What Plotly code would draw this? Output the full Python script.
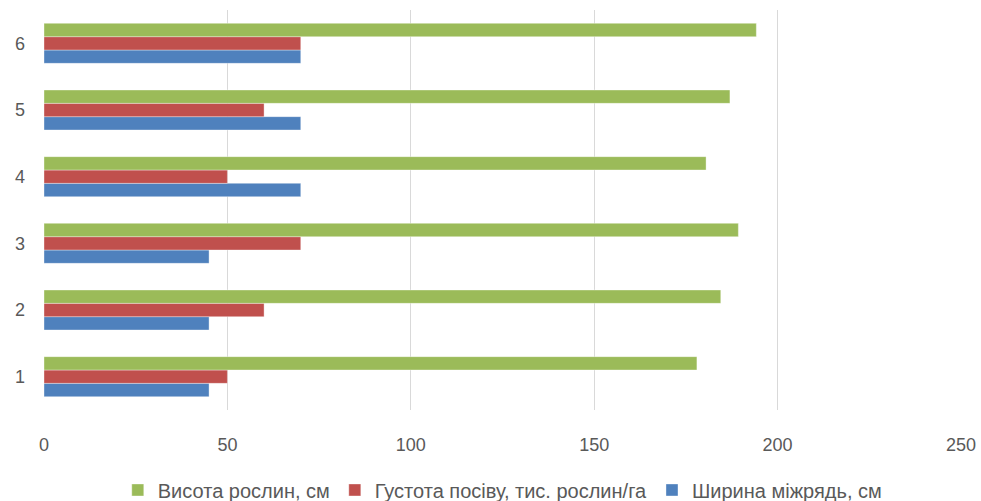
import plotly.graph_objects as go

categories = ["1", "2", "3", "4", "5", "6"]
row_width = [45, 45, 45, 70, 70, 70]          # Ширина міжрядь, см
density = [50, 60, 70, 50, 60, 70]            # Густота посіву, тис. рослин/га
height = [178, 184.5, 189.3, 180.5, 187, 194.2]  # Висота рослин, см

series = [
    ("Ширина міжрядь, см", row_width, "#4F81BD"),
    ("Густота посіву, тис. рослин/га", density, "#C0504D"),
    ("Висота рослин, см", height, "#9BBB59"),
]

FONT = "Liberation Sans, Arial, sans-serif"

fig = go.Figure()
for name, vals, color in series:
    fig.add_trace(go.Bar(
        y=categories, x=vals, name=name, orientation="h",
        marker=dict(color=color, line=dict(color="rgba(255,255,255,0.6)", width=0.6)),
    ))

fig.update_layout(
    width=981, height=501,
    margin=dict(l=44, r=20, t=10, b=91, autoexpand=False),
    paper_bgcolor="white", plot_bgcolor="white",
    barmode="group", bargap=0.4, bargroupgap=0,
    font=dict(family=FONT, size=18, color="#595959"),
    xaxis=dict(range=[0, 250], dtick=50, showgrid=True, gridcolor="#D9D9D9",
               gridwidth=1, zeroline=False, showline=False,
               ticks="", ticklabelstandoff=22, automargin=False,
               tickfont=dict(family=FONT, size=18, color="#595959")),
    yaxis=dict(showgrid=False, zeroline=False, showline=False, ticks="",
               ticklabelstandoff=18, automargin=False,
               tickfont=dict(family=FONT, size=18, color="#595959")),
    legend=dict(orientation="h", traceorder="reversed", x=0.512, xanchor="center",
                xref="container", yref="container",
                y=0.022, yanchor="middle",
                font=dict(family=FONT, size=20, color="#595959"),
                itemwidth=30, entrywidth=0),
    showlegend=True,
)

fig.write_html("out.html")
